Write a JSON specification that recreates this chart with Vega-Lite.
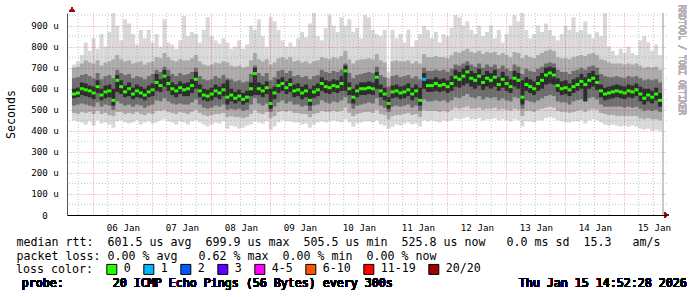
{
  "$schema": "https://vega.github.io/schema/vega-lite/v6.json",
  "width": 600,
  "height": 202,
  "autosize": {"type": "none"},
  "padding": {"left": 67, "top": 13, "right": 30, "bottom": 82},
  "background": "white",
  "config": {"view": {"stroke": null}, "font": "DejaVu Sans Mono"},
  "datasets": {
    "gx": [
{"g":"2026-01-05T18:00"},{"g":"2026-01-06T06:00"},{"g":"2026-01-06T12:00"},{"g":"2026-01-06T18:00"},
{"g":"2026-01-07T06:00"},{"g":"2026-01-07T12:00"},{"g":"2026-01-07T18:00"},
{"g":"2026-01-08T06:00"},{"g":"2026-01-08T12:00"},{"g":"2026-01-08T18:00"},
{"g":"2026-01-09T06:00"},{"g":"2026-01-09T12:00"},{"g":"2026-01-09T18:00"},
{"g":"2026-01-10T06:00"},{"g":"2026-01-10T12:00"},{"g":"2026-01-10T18:00"},
{"g":"2026-01-11T06:00"},{"g":"2026-01-11T12:00"},{"g":"2026-01-11T18:00"},
{"g":"2026-01-12T06:00"},{"g":"2026-01-12T12:00"},{"g":"2026-01-12T18:00"},
{"g":"2026-01-13T06:00"},{"g":"2026-01-13T12:00"},{"g":"2026-01-13T18:00"},
{"g":"2026-01-14T06:00"},{"g":"2026-01-14T12:00"},{"g":"2026-01-14T18:00"},
{"g":"2026-01-15T06:00"},{"g":"2026-01-15T12:00"}
    ],
    "gy": [{"v":50},{"v":150},{"v":250},{"v":350},{"v":450},{"v":550},{"v":650},{"v":750},{"v":850},{"v":950}],
    "smoke": [
{"t":"2026-01-05T16:17","m":575,"a0":450,"a1":715,"b0":485,"b1":700,"c0":520,"c1":650,"d0":555,"d1":600,"l":"0"},
{"t":"2026-01-05T17:53","m":580,"a0":445,"a1":730,"b0":480,"b1":705,"c0":525,"c1":655,"d0":560,"d1":605,"l":"0"},
{"t":"2026-01-05T19:29","m":600,"a0":440,"a1":760,"b0":490,"b1":720,"c0":530,"c1":665,"d0":570,"d1":630,"l":"0"},
{"t":"2026-01-05T21:05","m":595,"a0":430,"a1":820,"b0":485,"b1":735,"c0":525,"c1":670,"d0":565,"d1":625,"l":"0"},
{"t":"2026-01-05T22:41","m":590,"a0":445,"a1":780,"b0":490,"b1":725,"c0":520,"c1":660,"d0":560,"d1":615,"l":"0"},
{"t":"2026-01-06T00:17","m":580,"a0":425,"a1":840,"b0":480,"b1":720,"c0":515,"c1":650,"d0":550,"d1":610,"l":"0"},
{"t":"2026-01-06T01:53","m":610,"a0":450,"a1":790,"b0":495,"b1":735,"c0":535,"c1":675,"d0":580,"d1":640,"l":"0"},
{"t":"2026-01-06T03:29","m":570,"a0":435,"a1":860,"b0":480,"b1":710,"c0":515,"c1":645,"d0":545,"d1":600,"l":"0"},
{"t":"2026-01-06T05:05","m":585,"a0":440,"a1":800,"b0":485,"b1":725,"c0":525,"c1":660,"d0":555,"d1":615,"l":"0"},
{"t":"2026-01-06T06:41","m":590,"a0":430,"a1":870,"b0":475,"b1":730,"c0":520,"c1":665,"d0":560,"d1":620,"l":"0"},
{"t":"2026-01-06T08:17","m":545,"a0":415,"a1":960,"b0":470,"b1":740,"c0":500,"c1":650,"d0":520,"d1":600,"l":"0"},
{"t":"2026-01-06T09:53","m":640,"a0":445,"a1":900,"b0":490,"b1":760,"c0":540,"c1":690,"d0":585,"d1":665,"l":"0"},
{"t":"2026-01-06T11:29","m":610,"a0":450,"a1":830,"b0":490,"b1":740,"c0":530,"c1":675,"d0":575,"d1":640,"l":"0"},
{"t":"2026-01-06T13:05","m":585,"a0":440,"a1":930,"b0":480,"b1":730,"c0":520,"c1":665,"d0":560,"d1":615,"l":"0"},
{"t":"2026-01-06T14:41","m":600,"a0":435,"a1":910,"b0":485,"b1":735,"c0":525,"c1":670,"d0":565,"d1":630,"l":"0"},
{"t":"2026-01-06T16:17","m":575,"a0":440,"a1":860,"b0":480,"b1":720,"c0":515,"c1":650,"d0":550,"d1":605,"l":"0"},
{"t":"2026-01-06T17:53","m":590,"a0":450,"a1":810,"b0":490,"b1":725,"c0":525,"c1":660,"d0":560,"d1":620,"l":"0"},
{"t":"2026-01-06T19:29","m":580,"a0":430,"a1":880,"b0":480,"b1":730,"c0":520,"c1":655,"d0":555,"d1":610,"l":"0"},
{"t":"2026-01-06T21:05","m":570,"a0":440,"a1":840,"b0":475,"b1":715,"c0":510,"c1":645,"d0":545,"d1":600,"l":"0"},
{"t":"2026-01-06T22:41","m":585,"a0":445,"a1":880,"b0":485,"b1":725,"c0":520,"c1":660,"d0":560,"d1":615,"l":"0"},
{"t":"2026-01-07T00:17","m":595,"a0":435,"a1":820,"b0":480,"b1":730,"c0":525,"c1":670,"d0":565,"d1":625,"l":"0"},
{"t":"2026-01-07T01:53","m":630,"a0":440,"a1":860,"b0":495,"b1":750,"c0":545,"c1":690,"d0":590,"d1":670,"l":"0"},
{"t":"2026-01-07T03:29","m":615,"a0":450,"a1":800,"b0":495,"b1":745,"c0":540,"c1":680,"d0":585,"d1":645,"l":"0"},
{"t":"2026-01-07T05:05","m":660,"a0":455,"a1":930,"b0":500,"b1":770,"c0":555,"c1":705,"d0":610,"d1":690,"l":"0"},
{"t":"2026-01-07T06:41","m":625,"a0":445,"a1":820,"b0":490,"b1":750,"c0":540,"c1":690,"d0":590,"d1":660,"l":"0"},
{"t":"2026-01-07T08:17","m":600,"a0":440,"a1":810,"b0":485,"b1":735,"c0":530,"c1":670,"d0":570,"d1":630,"l":"0"},
{"t":"2026-01-07T09:53","m":590,"a0":430,"a1":790,"b0":480,"b1":730,"c0":525,"c1":660,"d0":560,"d1":620,"l":"0"},
{"t":"2026-01-07T11:29","m":605,"a0":445,"a1":830,"b0":490,"b1":740,"c0":530,"c1":675,"d0":575,"d1":635,"l":"0"},
{"t":"2026-01-07T13:05","m":595,"a0":440,"a1":945,"b0":485,"b1":735,"c0":525,"c1":665,"d0":565,"d1":625,"l":"0"},
{"t":"2026-01-07T14:41","m":600,"a0":430,"a1":850,"b0":480,"b1":735,"c0":525,"c1":670,"d0":565,"d1":630,"l":"0"},
{"t":"2026-01-07T16:17","m":615,"a0":445,"a1":870,"b0":490,"b1":745,"c0":535,"c1":680,"d0":580,"d1":645,"l":"0"},
{"t":"2026-01-07T17:53","m":645,"a0":450,"a1":860,"b0":500,"b1":760,"c0":550,"c1":700,"d0":600,"d1":680,"l":"0"},
{"t":"2026-01-07T19:29","m":590,"a0":440,"a1":820,"b0":485,"b1":730,"c0":525,"c1":660,"d0":560,"d1":620,"l":"0"},
{"t":"2026-01-07T21:05","m":570,"a0":430,"a1":880,"b0":475,"b1":715,"c0":510,"c1":645,"d0":545,"d1":600,"l":"0"},
{"t":"2026-01-07T22:41","m":565,"a0":420,"a1":940,"b0":470,"b1":710,"c0":505,"c1":640,"d0":540,"d1":595,"l":"0"},
{"t":"2026-01-08T00:17","m":575,"a0":430,"a1":850,"b0":475,"b1":715,"c0":510,"c1":645,"d0":545,"d1":605,"l":"0"},
{"t":"2026-01-08T01:53","m":590,"a0":440,"a1":830,"b0":480,"b1":725,"c0":520,"c1":660,"d0":560,"d1":620,"l":"0"},
{"t":"2026-01-08T03:29","m":580,"a0":435,"a1":815,"b0":480,"b1":720,"c0":515,"c1":650,"d0":550,"d1":610,"l":"0"},
{"t":"2026-01-08T05:05","m":595,"a0":445,"a1":840,"b0":485,"b1":730,"c0":525,"c1":665,"d0":565,"d1":625,"l":"0"},
{"t":"2026-01-08T06:41","m":560,"a0":410,"a1":820,"b0":465,"b1":725,"c0":500,"c1":650,"d0":525,"d1":640,"l":"0"},
{"t":"2026-01-08T08:17","m":570,"a0":425,"a1":790,"b0":470,"b1":710,"c0":505,"c1":645,"d0":540,"d1":600,"l":"0"},
{"t":"2026-01-08T09:53","m":555,"a0":420,"a1":800,"b0":465,"b1":705,"c0":500,"c1":635,"d0":530,"d1":585,"l":"0"},
{"t":"2026-01-08T11:29","m":565,"a0":410,"a1":830,"b0":465,"b1":710,"c0":505,"c1":640,"d0":540,"d1":595,"l":"0"},
{"t":"2026-01-08T13:05","m":550,"a0":415,"a1":790,"b0":460,"b1":700,"c0":495,"c1":630,"d0":525,"d1":580,"l":"0"},
{"t":"2026-01-08T14:41","m":560,"a0":425,"a1":810,"b0":465,"b1":705,"c0":500,"c1":635,"d0":535,"d1":590,"l":"0"},
{"t":"2026-01-08T16:17","m":600,"a0":430,"a1":900,"b0":480,"b1":735,"c0":525,"c1":670,"d0":565,"d1":630,"l":"0"},
{"t":"2026-01-08T17:53","m":672,"a0":445,"a1":880,"b0":500,"b1":770,"c0":555,"c1":710,"d0":570,"d1":700,"l":"0"},
{"t":"2026-01-08T19:29","m":600,"a0":440,"a1":930,"b0":485,"b1":740,"c0":530,"c1":675,"d0":570,"d1":630,"l":"0"},
{"t":"2026-01-08T21:05","m":590,"a0":435,"a1":850,"b0":480,"b1":730,"c0":520,"c1":660,"d0":560,"d1":620,"l":"0"},
{"t":"2026-01-08T22:41","m":605,"a0":445,"a1":800,"b0":490,"b1":740,"c0":530,"c1":675,"d0":575,"d1":635,"l":"0"},
{"t":"2026-01-09T00:17","m":530,"a0":405,"a1":940,"b0":460,"b1":715,"c0":490,"c1":640,"d0":505,"d1":600,"l":"0"},
{"t":"2026-01-09T01:53","m":580,"a0":420,"a1":920,"b0":470,"b1":725,"c0":515,"c1":655,"d0":550,"d1":610,"l":"0"},
{"t":"2026-01-09T03:29","m":615,"a0":440,"a1":880,"b0":490,"b1":745,"c0":535,"c1":685,"d0":580,"d1":645,"l":"0"},
{"t":"2026-01-09T05:05","m":625,"a0":450,"a1":830,"b0":495,"b1":750,"c0":545,"c1":690,"d0":590,"d1":655,"l":"0"},
{"t":"2026-01-09T06:41","m":605,"a0":445,"a1":800,"b0":490,"b1":740,"c0":530,"c1":675,"d0":575,"d1":635,"l":"0"},
{"t":"2026-01-09T08:17","m":620,"a0":445,"a1":820,"b0":495,"b1":750,"c0":540,"c1":685,"d0":585,"d1":650,"l":"0"},
{"t":"2026-01-09T09:53","m":590,"a0":440,"a1":800,"b0":485,"b1":730,"c0":525,"c1":660,"d0":560,"d1":620,"l":"0"},
{"t":"2026-01-09T11:29","m":595,"a0":440,"a1":840,"b0":485,"b1":735,"c0":525,"c1":665,"d0":565,"d1":625,"l":"0"},
{"t":"2026-01-09T13:05","m":580,"a0":430,"a1":870,"b0":480,"b1":725,"c0":515,"c1":655,"d0":550,"d1":610,"l":"0"},
{"t":"2026-01-09T14:41","m":590,"a0":435,"a1":845,"b0":480,"b1":730,"c0":520,"c1":660,"d0":560,"d1":620,"l":"0"},
{"t":"2026-01-09T16:17","m":545,"a0":415,"a1":910,"b0":465,"b1":720,"c0":495,"c1":645,"d0":520,"d1":600,"l":"0"},
{"t":"2026-01-09T17:53","m":585,"a0":430,"a1":960,"b0":480,"b1":730,"c0":520,"c1":660,"d0":555,"d1":615,"l":"0"},
{"t":"2026-01-09T19:29","m":595,"a0":440,"a1":850,"b0":485,"b1":735,"c0":525,"c1":665,"d0":565,"d1":625,"l":"0"},
{"t":"2026-01-09T21:05","m":625,"a0":445,"a1":830,"b0":495,"b1":750,"c0":545,"c1":690,"d0":590,"d1":655,"l":"0"},
{"t":"2026-01-09T22:41","m":610,"a0":440,"a1":890,"b0":490,"b1":745,"c0":535,"c1":680,"d0":580,"d1":640,"l":"0"},
{"t":"2026-01-10T00:17","m":605,"a0":445,"a1":950,"b0":490,"b1":740,"c0":530,"c1":675,"d0":575,"d1":635,"l":"0"},
{"t":"2026-01-10T01:53","m":615,"a0":450,"a1":900,"b0":495,"b1":750,"c0":540,"c1":685,"d0":585,"d1":645,"l":"0"},
{"t":"2026-01-10T03:29","m":610,"a0":445,"a1":870,"b0":490,"b1":745,"c0":535,"c1":680,"d0":580,"d1":640,"l":"0"},
{"t":"2026-01-10T05:05","m":625,"a0":440,"a1":940,"b0":495,"b1":755,"c0":545,"c1":690,"d0":590,"d1":660,"l":"0"},
{"t":"2026-01-10T06:41","m":685,"a0":455,"a1":900,"b0":510,"b1":780,"c0":560,"c1":720,"d0":590,"d1":710,"l":"0"},
{"t":"2026-01-10T08:17","m":600,"a0":440,"a1":930,"b0":485,"b1":740,"c0":530,"c1":675,"d0":570,"d1":630,"l":"0"},
{"t":"2026-01-10T09:53","m":560,"a0":420,"a1":870,"b0":470,"b1":720,"c0":505,"c1":650,"d0":530,"d1":600,"l":"0"},
{"t":"2026-01-10T11:29","m":590,"a0":435,"a1":890,"b0":480,"b1":735,"c0":520,"c1":665,"d0":560,"d1":620,"l":"0"},
{"t":"2026-01-10T13:05","m":600,"a0":440,"a1":840,"b0":485,"b1":740,"c0":525,"c1":670,"d0":570,"d1":630,"l":"0"},
{"t":"2026-01-10T14:41","m":600,"a0":445,"a1":950,"b0":490,"b1":740,"c0":530,"c1":675,"d0":570,"d1":630,"l":"0"},
{"t":"2026-01-10T16:17","m":605,"a0":445,"a1":940,"b0":490,"b1":745,"c0":535,"c1":680,"d0":575,"d1":635,"l":"0"},
{"t":"2026-01-10T17:53","m":600,"a0":440,"a1":880,"b0":485,"b1":740,"c0":530,"c1":675,"d0":570,"d1":630,"l":"0"},
{"t":"2026-01-10T19:29","m":655,"a0":450,"a1":860,"b0":500,"b1":765,"c0":555,"c1":705,"d0":600,"d1":680,"l":"0"},
{"t":"2026-01-10T21:05","m":590,"a0":430,"a1":850,"b0":480,"b1":735,"c0":520,"c1":665,"d0":560,"d1":620,"l":"0"},
{"t":"2026-01-10T22:41","m":575,"a0":425,"a1":880,"b0":475,"b1":725,"c0":510,"c1":655,"d0":545,"d1":605,"l":"0"},
{"t":"2026-01-11T00:17","m":530,"a0":410,"a1":680,"b0":455,"b1":650,"c0":490,"c1":610,"d0":505,"d1":560,"l":"0"},
{"t":"2026-01-11T01:53","m":585,"a0":420,"a1":880,"b0":470,"b1":730,"c0":515,"c1":660,"d0":555,"d1":615,"l":"0"},
{"t":"2026-01-11T03:29","m":590,"a0":430,"a1":840,"b0":475,"b1":735,"c0":520,"c1":665,"d0":560,"d1":620,"l":"0"},
{"t":"2026-01-11T05:05","m":580,"a0":425,"a1":860,"b0":475,"b1":730,"c0":515,"c1":655,"d0":550,"d1":610,"l":"0"},
{"t":"2026-01-11T06:41","m":585,"a0":435,"a1":820,"b0":480,"b1":730,"c0":520,"c1":660,"d0":555,"d1":615,"l":"0"},
{"t":"2026-01-11T08:17","m":595,"a0":440,"a1":880,"b0":485,"b1":735,"c0":525,"c1":665,"d0":565,"d1":625,"l":"0"},
{"t":"2026-01-11T09:53","m":575,"a0":430,"a1":800,"b0":475,"b1":720,"c0":510,"c1":650,"d0":545,"d1":605,"l":"0"},
{"t":"2026-01-11T11:29","m":590,"a0":435,"a1":830,"b0":480,"b1":730,"c0":520,"c1":660,"d0":560,"d1":620,"l":"0"},
{"t":"2026-01-11T13:05","m":545,"a0":420,"a1":860,"b0":465,"b1":720,"c0":495,"c1":645,"d0":520,"d1":605,"l":"0"},
{"t":"2026-01-11T14:41","m":645,"a0":450,"a1":900,"b0":500,"b1":765,"c0":550,"c1":700,"d0":600,"d1":675,"l":"1"},
{"t":"2026-01-11T16:17","m":615,"a0":445,"a1":880,"b0":495,"b1":750,"c0":540,"c1":685,"d0":585,"d1":645,"l":"0"},
{"t":"2026-01-11T17:53","m":615,"a0":450,"a1":840,"b0":495,"b1":750,"c0":540,"c1":685,"d0":585,"d1":645,"l":"0"},
{"t":"2026-01-11T19:29","m":625,"a0":445,"a1":870,"b0":495,"b1":755,"c0":545,"c1":690,"d0":590,"d1":655,"l":"0"},
{"t":"2026-01-11T21:05","m":615,"a0":440,"a1":820,"b0":490,"b1":750,"c0":540,"c1":685,"d0":585,"d1":645,"l":"0"},
{"t":"2026-01-11T22:41","m":620,"a0":450,"a1":860,"b0":495,"b1":750,"c0":545,"c1":690,"d0":590,"d1":650,"l":"0"},
{"t":"2026-01-12T00:17","m":610,"a0":445,"a1":850,"b0":490,"b1":745,"c0":535,"c1":680,"d0":580,"d1":640,"l":"0"},
{"t":"2026-01-12T01:53","m":625,"a0":450,"a1":890,"b0":500,"b1":760,"c0":545,"c1":695,"d0":590,"d1":660,"l":"0"},
{"t":"2026-01-12T03:29","m":655,"a0":460,"a1":950,"b0":510,"b1":775,"c0":560,"c1":715,"d0":610,"d1":690,"l":"0"},
{"t":"2026-01-12T05:05","m":645,"a0":455,"a1":940,"b0":505,"b1":770,"c0":555,"c1":710,"d0":605,"d1":680,"l":"0"},
{"t":"2026-01-12T06:41","m":660,"a0":460,"a1":900,"b0":510,"b1":780,"c0":565,"c1":720,"d0":615,"d1":695,"l":"0"},
{"t":"2026-01-12T08:17","m":680,"a0":465,"a1":920,"b0":515,"b1":790,"c0":575,"c1":730,"d0":625,"d1":710,"l":"0"},
{"t":"2026-01-12T09:53","m":650,"a0":455,"a1":880,"b0":505,"b1":775,"c0":560,"c1":715,"d0":610,"d1":685,"l":"0"},
{"t":"2026-01-12T11:29","m":640,"a0":455,"a1":860,"b0":505,"b1":770,"c0":555,"c1":705,"d0":600,"d1":675,"l":"0"},
{"t":"2026-01-12T13:05","m":660,"a0":460,"a1":900,"b0":510,"b1":780,"c0":565,"c1":720,"d0":615,"d1":695,"l":"0"},
{"t":"2026-01-12T14:41","m":630,"a0":450,"a1":850,"b0":500,"b1":765,"c0":550,"c1":700,"d0":595,"d1":665,"l":"0"},
{"t":"2026-01-12T16:17","m":650,"a0":455,"a1":870,"b0":505,"b1":775,"c0":560,"c1":715,"d0":610,"d1":685,"l":"0"},
{"t":"2026-01-12T17:53","m":640,"a0":455,"a1":900,"b0":505,"b1":770,"c0":555,"c1":705,"d0":600,"d1":675,"l":"0"},
{"t":"2026-01-12T19:29","m":655,"a0":460,"a1":840,"b0":510,"b1":775,"c0":560,"c1":715,"d0":610,"d1":690,"l":"0"},
{"t":"2026-01-12T21:05","m":620,"a0":450,"a1":880,"b0":500,"b1":760,"c0":545,"c1":695,"d0":590,"d1":655,"l":"0"},
{"t":"2026-01-12T22:41","m":645,"a0":455,"a1":820,"b0":505,"b1":770,"c0":555,"c1":710,"d0":605,"d1":680,"l":"0"},
{"t":"2026-01-13T00:17","m":625,"a0":450,"a1":860,"b0":500,"b1":760,"c0":545,"c1":695,"d0":590,"d1":660,"l":"0"},
{"t":"2026-01-13T01:53","m":610,"a0":445,"a1":900,"b0":495,"b1":750,"c0":540,"c1":685,"d0":580,"d1":645,"l":"0"},
{"t":"2026-01-13T03:29","m":650,"a0":455,"a1":950,"b0":505,"b1":775,"c0":560,"c1":715,"d0":610,"d1":685,"l":"0"},
{"t":"2026-01-13T05:05","m":640,"a0":450,"a1":920,"b0":500,"b1":770,"c0":555,"c1":705,"d0":600,"d1":675,"l":"0"},
{"t":"2026-01-13T06:41","m":560,"a0":420,"a1":960,"b0":470,"b1":745,"c0":505,"c1":670,"d0":525,"d1":640,"l":"0"},
{"t":"2026-01-13T08:17","m":620,"a0":445,"a1":880,"b0":495,"b1":760,"c0":545,"c1":695,"d0":590,"d1":655,"l":"0"},
{"t":"2026-01-13T09:53","m":610,"a0":445,"a1":840,"b0":495,"b1":750,"c0":540,"c1":685,"d0":580,"d1":645,"l":"0"},
{"t":"2026-01-13T11:29","m":600,"a0":440,"a1":860,"b0":490,"b1":745,"c0":535,"c1":680,"d0":570,"d1":635,"l":"0"},
{"t":"2026-01-13T13:05","m":625,"a0":450,"a1":900,"b0":500,"b1":760,"c0":545,"c1":695,"d0":590,"d1":660,"l":"0"},
{"t":"2026-01-13T14:41","m":640,"a0":450,"a1":870,"b0":505,"b1":770,"c0":555,"c1":705,"d0":600,"d1":675,"l":"0"},
{"t":"2026-01-13T16:17","m":665,"a0":460,"a1":910,"b0":510,"b1":780,"c0":565,"c1":720,"d0":620,"d1":700,"l":"0"},
{"t":"2026-01-13T17:53","m":675,"a0":465,"a1":880,"b0":515,"b1":785,"c0":570,"c1":725,"d0":625,"d1":705,"l":"0"},
{"t":"2026-01-13T19:29","m":665,"a0":460,"a1":850,"b0":510,"b1":780,"c0":565,"c1":720,"d0":620,"d1":700,"l":"0"},
{"t":"2026-01-13T21:05","m":615,"a0":450,"a1":830,"b0":495,"b1":750,"c0":540,"c1":690,"d0":585,"d1":650,"l":"0"},
{"t":"2026-01-13T22:41","m":600,"a0":445,"a1":860,"b0":490,"b1":745,"c0":535,"c1":680,"d0":570,"d1":635,"l":"0"},
{"t":"2026-01-14T00:17","m":605,"a0":440,"a1":900,"b0":490,"b1":745,"c0":535,"c1":680,"d0":575,"d1":640,"l":"0"},
{"t":"2026-01-14T01:53","m":595,"a0":440,"a1":880,"b0":485,"b1":740,"c0":525,"c1":670,"d0":565,"d1":625,"l":"0"},
{"t":"2026-01-14T03:29","m":610,"a0":445,"a1":940,"b0":490,"b1":750,"c0":540,"c1":685,"d0":580,"d1":645,"l":"0"},
{"t":"2026-01-14T05:05","m":620,"a0":445,"a1":870,"b0":495,"b1":755,"c0":545,"c1":690,"d0":590,"d1":655,"l":"0"},
{"t":"2026-01-14T06:41","m":635,"a0":450,"a1":880,"b0":500,"b1":760,"c0":550,"c1":700,"d0":600,"d1":670,"l":"0"},
{"t":"2026-01-14T08:17","m":620,"a0":435,"a1":920,"b0":490,"b1":755,"c0":540,"c1":690,"d0":540,"d1":655,"l":"0"},
{"t":"2026-01-14T09:53","m":640,"a0":450,"a1":860,"b0":500,"b1":765,"c0":555,"c1":705,"d0":600,"d1":675,"l":"0"},
{"t":"2026-01-14T11:29","m":650,"a0":455,"a1":840,"b0":505,"b1":770,"c0":560,"c1":710,"d0":610,"d1":685,"l":"0"},
{"t":"2026-01-14T13:05","m":630,"a0":450,"a1":870,"b0":500,"b1":760,"c0":550,"c1":700,"d0":595,"d1":665,"l":"0"},
{"t":"2026-01-14T14:41","m":590,"a0":440,"a1":850,"b0":485,"b1":740,"c0":525,"c1":670,"d0":560,"d1":620,"l":"0"},
{"t":"2026-01-14T16:17","m":575,"a0":430,"a1":960,"b0":480,"b1":735,"c0":515,"c1":660,"d0":545,"d1":605,"l":"0"},
{"t":"2026-01-14T17:53","m":580,"a0":425,"a1":800,"b0":475,"b1":725,"c0":515,"c1":655,"d0":550,"d1":610,"l":"0"},
{"t":"2026-01-14T19:29","m":585,"a0":430,"a1":780,"b0":475,"b1":720,"c0":515,"c1":655,"d0":555,"d1":615,"l":"0"},
{"t":"2026-01-14T21:05","m":590,"a0":425,"a1":760,"b0":470,"b1":720,"c0":515,"c1":660,"d0":560,"d1":620,"l":"0"},
{"t":"2026-01-14T22:41","m":585,"a0":420,"a1":790,"b0":470,"b1":720,"c0":515,"c1":655,"d0":555,"d1":615,"l":"0"},
{"t":"2026-01-15T00:17","m":580,"a0":425,"a1":770,"b0":470,"b1":715,"c0":510,"c1":650,"d0":550,"d1":610,"l":"0"},
{"t":"2026-01-15T01:53","m":590,"a0":420,"a1":800,"b0":470,"b1":720,"c0":515,"c1":660,"d0":560,"d1":620,"l":"0"},
{"t":"2026-01-15T03:29","m":585,"a0":425,"a1":770,"b0":470,"b1":715,"c0":510,"c1":655,"d0":555,"d1":615,"l":"0"},
{"t":"2026-01-15T05:05","m":595,"a0":420,"a1":760,"b0":470,"b1":720,"c0":515,"c1":660,"d0":565,"d1":625,"l":"0"},
{"t":"2026-01-15T06:41","m":575,"a0":410,"a1":830,"b0":460,"b1":710,"c0":505,"c1":650,"d0":540,"d1":610,"l":"0"},
{"t":"2026-01-15T08:17","m":555,"a0":405,"a1":850,"b0":455,"b1":700,"c0":495,"c1":640,"d0":525,"d1":600,"l":"0"},
{"t":"2026-01-15T09:53","m":570,"a0":410,"a1":820,"b0":460,"b1":705,"c0":500,"c1":645,"d0":540,"d1":600,"l":"0"},
{"t":"2026-01-15T11:29","m":560,"a0":400,"a1":780,"b0":455,"b1":700,"c0":495,"c1":640,"d0":530,"d1":590,"l":"0"},
{"t":"2026-01-15T13:05","m":575,"a0":405,"a1":810,"b0":455,"b1":705,"c0":500,"c1":645,"d0":545,"d1":605,"l":"0"},
{"t":"2026-01-15T14:41","m":545,"a0":400,"a1":760,"b0":450,"b1":690,"c0":490,"c1":630,"d0":515,"d1":580,"l":"0"}
    ]
  },
  "data": {"name": "smoke"},
  "layer": [
    {
      "mark": {"type": "bar", "size": 4, "color": "#d8d8d8"},
      "encoding": {
        "x": {
          "field": "t", "type": "temporal",
          "scale": {"domain": [{"year": 2026, "month": 1, "date": 5, "hours": 15, "minutes": 29}, {"year": 2026, "month": 1, "date": 15, "hours": 15, "minutes": 29}], "nice": false},
          "axis": {
            "orient": "bottom", "tickCount": "day", "format": "%d %b",
            "labelOffset": 30, "labelAlign": "center", "labelBaseline": "alphabetic", "labelPadding": 15,
            "labelFont": "DejaVu Sans Mono", "labelFontSize": 9.2, "labelColor": "#000",
            "labelOverlap": false, "labelFlush": false, "labelBound": false,
            "ticks": false, "domainColor": "#000", "domainWidth": 1,
            "grid": true, "gridDash": [1, 2], "gridWidth": 1, "gridColor": "rgba(220,0,0,0.42)",
            "title": [
              "median rtt:\u00a0\u00a0601.5 us avg\u00a0\u00a0699.9 us max\u00a0\u00a0505.5 us min\u00a0\u00a0525.8 us now\u00a0\u00a0\u00a00.0 ms sd\u00a0\u00a015.3\u00a0\u00a0\u00a0am/s",
              "packet loss: 0.00 % avg\u00a0\u00a0\u00a00.62 % max\u00a0\u00a00.00 % min\u00a0\u00a00.00 % now"
            ],
            "titleX": -51, "titleY": 30, "titleAlign": "left", "titleAnchor": "start", "titleBaseline": "alphabetic",
            "titleFont": "DejaVu Sans Mono", "titleFontSize": 11.63, "titleFontWeight": "normal", "titleLineHeight": 14, "titleColor": "#000",
            "zindex": 1
          }
        },
        "y": {
          "field": "a0", "type": "quantitative",
          "scale": {"domain": [0, 960], "nice": false},
          "axis": {
            "orient": "left", "values": [0, 100, 200, 300, 400, 500, 600, 700, 800, 900],
            "labelExpr": "datum.value == 0 ? '0' : datum.value + ' u'",
            "labelAlign": "center", "labelBaseline": "middle", "labelPadding": 22.5,
            "labelFont": "DejaVu Sans Mono", "labelFontSize": 9.2, "labelColor": "#000",
            "labelOverlap": false, "labelFlush": false, "labelBound": false,
            "ticks": false, "domainColor": "#555", "domainWidth": 1,
            "grid": true, "gridDash": [1, 2], "gridWidth": 1, "gridColor": "rgba(220,0,0,0.42)",
            "title": "Seconds", "titleX": -56, "titleY": 101, "titleAngle": -90, "titleAlign": "center", "titleBaseline": "middle",
            "titleFont": "DejaVu Sans Mono", "titleFontSize": 11.63, "titleFontWeight": "normal", "titleColor": "#000",
            "zindex": 1
          }
        },
        "y2": {"field": "a1"}
      }
    },
    {
      "mark": {"type": "bar", "size": 4, "color": "#aaaaaa"},
      "encoding": {
        "x": {"field": "t", "type": "temporal"},
        "y": {"field": "b0", "type": "quantitative", "axis": {"orient": "left", "values": [0, 100, 200, 300, 400, 500, 600, 700, 800, 900], "labelExpr": "datum.value == 0 ? '0' : datum.value + ' u'", "labelAlign": "center", "labelBaseline": "middle", "labelPadding": 22.5, "labelFont": "DejaVu Sans Mono", "labelFontSize": 9.2, "labelColor": "#000", "labelOverlap": false, "labelFlush": false, "labelBound": false, "ticks": false, "domainColor": "#555", "domainWidth": 1, "grid": true, "gridDash": [1, 2], "gridWidth": 1, "gridColor": "rgba(220,0,0,0.42)", "title": "Seconds", "titleX": -56, "titleY": 101, "titleAngle": -90, "titleAlign": "center", "titleBaseline": "middle", "titleFont": "DejaVu Sans Mono", "titleFontSize": 11.63, "titleFontWeight": "normal", "titleColor": "#000", "zindex": 1}},
        "y2": {"field": "b1"}
      }
    },
    {
      "mark": {"type": "bar", "size": 4, "color": "#6e6e6e"},
      "encoding": {
        "x": {"field": "t", "type": "temporal"},
        "y": {"field": "c0", "type": "quantitative", "axis": {"orient": "left", "values": [0, 100, 200, 300, 400, 500, 600, 700, 800, 900], "labelExpr": "datum.value == 0 ? '0' : datum.value + ' u'", "labelAlign": "center", "labelBaseline": "middle", "labelPadding": 22.5, "labelFont": "DejaVu Sans Mono", "labelFontSize": 9.2, "labelColor": "#000", "labelOverlap": false, "labelFlush": false, "labelBound": false, "ticks": false, "domainColor": "#555", "domainWidth": 1, "grid": true, "gridDash": [1, 2], "gridWidth": 1, "gridColor": "rgba(220,0,0,0.42)", "title": "Seconds", "titleX": -56, "titleY": 101, "titleAngle": -90, "titleAlign": "center", "titleBaseline": "middle", "titleFont": "DejaVu Sans Mono", "titleFontSize": 11.63, "titleFontWeight": "normal", "titleColor": "#000", "zindex": 1}},
        "y2": {"field": "c1"}
      }
    },
    {
      "mark": {"type": "bar", "size": 4, "color": "#2c2c2c"},
      "encoding": {
        "x": {"field": "t", "type": "temporal"},
        "y": {"field": "d0", "type": "quantitative", "axis": {"orient": "left", "values": [0, 100, 200, 300, 400, 500, 600, 700, 800, 900], "labelExpr": "datum.value == 0 ? '0' : datum.value + ' u'", "labelAlign": "center", "labelBaseline": "middle", "labelPadding": 22.5, "labelFont": "DejaVu Sans Mono", "labelFontSize": 9.2, "labelColor": "#000", "labelOverlap": false, "labelFlush": false, "labelBound": false, "ticks": false, "domainColor": "#555", "domainWidth": 1, "grid": true, "gridDash": [1, 2], "gridWidth": 1, "gridColor": "rgba(220,0,0,0.42)", "title": "Seconds", "titleX": -56, "titleY": 101, "titleAngle": -90, "titleAlign": "center", "titleBaseline": "middle", "titleFont": "DejaVu Sans Mono", "titleFontSize": 11.63, "titleFontWeight": "normal", "titleColor": "#000", "zindex": 1}},
        "y2": {"field": "d1"}
      }
    },
    {
      "data": {"name": "gx"},
      "mark": {"type": "rule", "color": "rgba(130,130,130,0.45)", "strokeDash": [1, 2], "strokeWidth": 1},
      "encoding": {
        "x": {"field": "g", "type": "temporal"}
      }
    },
    {
      "data": {"name": "gy"},
      "mark": {"type": "rule", "color": "rgba(130,130,130,0.45)", "strokeDash": [1, 2], "strokeWidth": 1},
      "encoding": {
        "y": {"field": "v", "type": "quantitative", "axis": {"orient": "left", "values": [0, 100, 200, 300, 400, 500, 600, 700, 800, 900], "labelExpr": "datum.value == 0 ? '0' : datum.value + ' u'", "labelAlign": "center", "labelBaseline": "middle", "labelPadding": 22.5, "labelFont": "DejaVu Sans Mono", "labelFontSize": 9.2, "labelColor": "#000", "labelOverlap": false, "labelFlush": false, "labelBound": false, "ticks": false, "domainColor": "#555", "domainWidth": 1, "grid": true, "gridDash": [1, 2], "gridWidth": 1, "gridColor": "rgba(220,0,0,0.42)", "title": "Seconds", "titleX": -56, "titleY": 101, "titleAngle": -90, "titleAlign": "center", "titleBaseline": "middle", "titleFont": "DejaVu Sans Mono", "titleFontSize": 11.63, "titleFontWeight": "normal", "titleColor": "#000", "zindex": 1}}
      }
    },
    {
      "mark": {"type": "tick", "orient": "horizontal", "size": 4, "thickness": 3, "opacity": 1},
      "encoding": {
        "x": {"field": "t", "type": "temporal"},
        "y": {"field": "m", "type": "quantitative", "axis": {"orient": "left", "values": [0, 100, 200, 300, 400, 500, 600, 700, 800, 900], "labelExpr": "datum.value == 0 ? '0' : datum.value + ' u'", "labelAlign": "center", "labelBaseline": "middle", "labelPadding": 22.5, "labelFont": "DejaVu Sans Mono", "labelFontSize": 9.2, "labelColor": "#000", "labelOverlap": false, "labelFlush": false, "labelBound": false, "ticks": false, "domainColor": "#555", "domainWidth": 1, "grid": true, "gridDash": [1, 2], "gridWidth": 1, "gridColor": "rgba(220,0,0,0.42)", "title": "Seconds", "titleX": -56, "titleY": 101, "titleAngle": -90, "titleAlign": "center", "titleBaseline": "middle", "titleFont": "DejaVu Sans Mono", "titleFontSize": 11.63, "titleFontWeight": "normal", "titleColor": "#000", "zindex": 1}},
        "color": {
          "field": "l", "type": "nominal",
          "scale": {"domain": ["0", "1", "2", "3", "4-5", "6-10", "11-19", "20/20"], "range": ["#26ff00", "#00b8ff", "#0059ff", "#5e00ff", "#ff00ff", "#ff5500", "#ff0000", "#a10000"]},
          "legend": {
            "orient": "none", "legendX": -51, "legendY": 250.5, "direction": "horizontal",
            "title": "loss color:", "titleOrient": "left", "titlePadding": 13,
            "titleFont": "DejaVu Sans Mono", "titleFontSize": 11.63, "titleFontWeight": "normal", "titleColor": "#000",
            "labelFont": "DejaVu Sans Mono", "labelFontSize": 11.63, "labelColor": "#000", "labelOffset": 6,
            "columnPadding": 10, "padding": 0,
            "symbolType": "square", "symbolSize": 100, "symbolStrokeColor": "#000", "symbolStrokeWidth": 1, "symbolOpacity": 1
          }
        }
      }
    },
    {
      "mark": {"type": "rule", "color": "#c8c8c8", "strokeWidth": 1},
      "encoding": {
        "x": {"datum": {"year": 2026, "month": 1, "date": 15, "hours": 15, "minutes": 53}, "type": "temporal"}
      }
    },
    {
      "mark": {"type": "text", "text": "RRDTOOL / TOBI OETIKER", "angle": 90, "align": "left", "baseline": "middle", "font": "DejaVu Sans Mono", "fontSize": 8.3, "fontWeight": "normal", "color": "#b4b4b4"},
      "encoding": {
        "x": {"datum": {"year": 2026, "month": 1, "date": 15, "hours": 23, "minutes": 5}, "type": "temporal"},
        "y": {"datum": 998, "type": "quantitative", "axis": {"orient": "left", "values": [0, 100, 200, 300, 400, 500, 600, 700, 800, 900], "labelExpr": "datum.value == 0 ? '0' : datum.value + ' u'", "labelAlign": "center", "labelBaseline": "middle", "labelPadding": 22.5, "labelFont": "DejaVu Sans Mono", "labelFontSize": 9.2, "labelColor": "#000", "labelOverlap": false, "labelFlush": false, "labelBound": false, "ticks": false, "domainColor": "#555", "domainWidth": 1, "grid": true, "gridDash": [1, 2], "gridWidth": 1, "gridColor": "rgba(220,0,0,0.42)", "title": "Seconds", "titleX": -56, "titleY": 101, "titleAngle": -90, "titleAlign": "center", "titleBaseline": "middle", "titleFont": "DejaVu Sans Mono", "titleFontSize": 11.63, "titleFontWeight": "normal", "titleColor": "#000", "zindex": 1}}
      }
    },
    {
      "mark": {"type": "text", "text": "probe:\u00a0\u00a0\u00a0\u00a0\u00a0\u00a0\u00a020 ICMP Echo Pings (56 Bytes) every 300s\u00a0\u00a0\u00a0\u00a0\u00a0\u00a0\u00a0\u00a0\u00a0\u00a0\u00a0\u00a0\u00a0\u00a0\u00a0\u00a0\u00a0\u00a0Thu Jan 15 14:52:28 2026", "align": "left", "baseline": "alphabetic", "font": "DejaVu Sans Mono", "fontSize": 11.63, "fontWeight": "normal", "color": "#000"},
      "encoding": {
        "x": {"datum": {"year": 2026, "month": 1, "date": 4, "hours": 19, "minutes": 5}, "type": "temporal"},
        "y": {"datum": -342, "type": "quantitative", "axis": {"orient": "left", "values": [0, 100, 200, 300, 400, 500, 600, 700, 800, 900], "labelExpr": "datum.value == 0 ? '0' : datum.value + ' u'", "labelAlign": "center", "labelBaseline": "middle", "labelPadding": 22.5, "labelFont": "DejaVu Sans Mono", "labelFontSize": 9.2, "labelColor": "#000", "labelOverlap": false, "labelFlush": false, "labelBound": false, "ticks": false, "domainColor": "#555", "domainWidth": 1, "grid": true, "gridDash": [1, 2], "gridWidth": 1, "gridColor": "rgba(220,0,0,0.42)", "title": "Seconds", "titleX": -56, "titleY": 101, "titleAngle": -90, "titleAlign": "center", "titleBaseline": "middle", "titleFont": "DejaVu Sans Mono", "titleFontSize": 11.63, "titleFontWeight": "normal", "titleColor": "#000", "zindex": 1}}
      }
    },
    {
      "mark": {"type": "point", "shape": "triangle-right", "filled": true, "size": 30, "color": "#a01010", "opacity": 1},
      "encoding": {
        "x": {"datum": {"year": 2026, "month": 1, "date": 15, "hours": 17, "minutes": 17}, "type": "temporal"},
        "y": {"datum": 0, "type": "quantitative", "axis": {"orient": "left", "values": [0, 100, 200, 300, 400, 500, 600, 700, 800, 900], "labelExpr": "datum.value == 0 ? '0' : datum.value + ' u'", "labelAlign": "center", "labelBaseline": "middle", "labelPadding": 22.5, "labelFont": "DejaVu Sans Mono", "labelFontSize": 9.2, "labelColor": "#000", "labelOverlap": false, "labelFlush": false, "labelBound": false, "ticks": false, "domainColor": "#555", "domainWidth": 1, "grid": true, "gridDash": [1, 2], "gridWidth": 1, "gridColor": "rgba(220,0,0,0.42)", "title": "Seconds", "titleX": -56, "titleY": 101, "titleAngle": -90, "titleAlign": "center", "titleBaseline": "middle", "titleFont": "DejaVu Sans Mono", "titleFontSize": 11.63, "titleFontWeight": "normal", "titleColor": "#000", "zindex": 1}}
      }
    },
    {
      "mark": {"type": "point", "shape": "triangle-up", "filled": true, "size": 30, "color": "#a01010", "opacity": 1},
      "encoding": {
        "x": {"datum": {"year": 2026, "month": 1, "date": 5, "hours": 15, "minutes": 29}, "type": "temporal"},
        "y": {"datum": 976, "type": "quantitative", "axis": {"orient": "left", "values": [0, 100, 200, 300, 400, 500, 600, 700, 800, 900], "labelExpr": "datum.value == 0 ? '0' : datum.value + ' u'", "labelAlign": "center", "labelBaseline": "middle", "labelPadding": 22.5, "labelFont": "DejaVu Sans Mono", "labelFontSize": 9.2, "labelColor": "#000", "labelOverlap": false, "labelFlush": false, "labelBound": false, "ticks": false, "domainColor": "#555", "domainWidth": 1, "grid": true, "gridDash": [1, 2], "gridWidth": 1, "gridColor": "rgba(220,0,0,0.42)", "title": "Seconds", "titleX": -56, "titleY": 101, "titleAngle": -90, "titleAlign": "center", "titleBaseline": "middle", "titleFont": "DejaVu Sans Mono", "titleFontSize": 11.63, "titleFontWeight": "normal", "titleColor": "#000", "zindex": 1}}
      }
    }
  ]
}
